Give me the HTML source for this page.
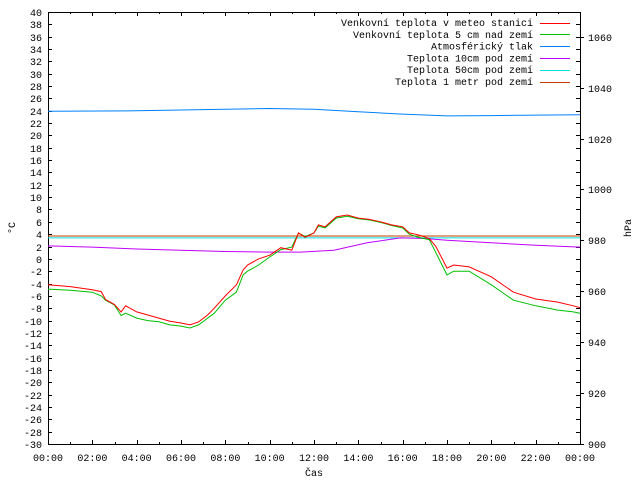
<!DOCTYPE html>
<html><head><meta charset="utf-8"><style>
body{margin:0;background:#fff}
svg{display:block}
text{font-family:"Liberation Mono","DejaVu Sans Mono",monospace;font-size:10px;fill:#000}
</style></head><body>
<svg id="chart" width="640" height="480" xmlns="http://www.w3.org/2000/svg"></svg>
<script>
// time (hours) and values
const tHours = [0,1,2,2.4,2.6,3,3.3,3.5,4,4.5,5,5.5,6,6.4,6.8,7.2,7.5,8,8.5,8.8,9,9.5,10,10.5,11,11.3,11.6,12,12.2,12.5,13,13.5,14,14.5,15,15.5,16,16.3,16.7,17.2,17.5,18,18.3,19,20,21,22,23,23.7,24];
const redVals = [-4.2,-4.5,-5.0,-5.3,-6.6,-7.4,-8.6,-7.6,-8.6,-9.1,-9.6,-10.1,-10.4,-10.7,-10.2,-9.1,-8.0,-6.0,-4.2,-1.8,-1.0,0,0.6,1.8,1.4,4.2,3.5,4.2,5.5,5.2,6.8,7.1,6.6,6.4,6.0,5.5,5.2,4.2,3.9,3.3,2.0,-1.5,-1.0,-1.3,-2.9,-5.4,-6.5,-7.0,-7.6,-7.9];
const greenVals = [-4.9,-5.1,-5.4,-6.0,-6.7,-7.5,-9.2,-8.8,-9.6,-10.0,-10.2,-10.7,-10.9,-11.2,-10.7,-9.6,-8.8,-6.7,-5.4,-2.6,-2.0,-1.0,0.3,1.5,1.9,4.2,3.6,4.2,5.3,5.0,6.6,6.9,6.5,6.3,5.9,5.4,5.0,4.0,3.5,3.1,1.0,-2.6,-2.0,-2.0,-4.2,-6.7,-7.6,-8.3,-8.6,-8.8];
const pressT = [0,4,8,10,12,14,16,18,20,22,24];
const pressVals = [1030.7,1030.9,1031.5,1031.8,1031.5,1030.5,1029.6,1028.9,1029.0,1029.2,1029.3];
const soilT = [0,2,4,6,8,10,11.4,12.9,14.4,15.9,17,18,20,22,24];
const soil10Vals = [2.1,1.9,1.6,1.4,1.2,1.1,1.1,1.4,2.6,3.4,3.3,3.0,2.6,2.2,1.9];
const soil50Vals = [3.4,3.4];
const soil1mVals = [3.7,3.7];
const flatT = [0,24];
const yTicksLeft = [-30,-28,-26,-24,-22,-20,-18,-16,-14,-12,-10,-8,-6,-4,-2,0,2,4,6,8,10,12,14,16,18,20,22,24,26,28,30,32,34,36,38,40];
const yTicksRight = [900,920,940,960,980,1000,1020,1040,1060];
const xTickLabels = ["00:00","02:00","04:00","06:00","08:00","10:00","12:00","14:00","16:00","18:00","20:00","22:00","00:00"];

const L=48,R=580,T=12,B=444;
const x = h => L + h/24*(R-L);
const y = v => B - (v+30)/70*(B-T);
const y2 = p => B - (p-900)/169.7*(B-T);
const svg=document.getElementById('chart');
const NS="http://www.w3.org/2000/svg";
function mk(tag,attrs){const e=document.createElementNS(NS,tag);for(const k in attrs)e.setAttribute(k,attrs[k]);svg.appendChild(e);return e;}

const frame=mk('rect',{x:L+0.5,y:T+0.5,width:R-L,height:B-T,fill:'none',stroke:'#000','stroke-width':1,'shape-rendering':'crispEdges'});



yTicksLeft.forEach(v=>{
  const yy=Math.round(y(v))+0.5;
  const tk=mk('path',{d:`M${L} ${yy}h4M${R} ${yy}h-4`,stroke:'#000','shape-rendering':'crispEdges'});
  
  
  const t=mk('text',{x:L-6,y:yy+3.5,'text-anchor':'end'});t.textContent=v;
  
  
});
yTicksRight.forEach(p=>{
  const yy=Math.round(y2(p))+0.5;
  const tk=mk('path',{d:`M${R} ${yy}h4`,stroke:'#000','shape-rendering':'crispEdges'});
  
  
  const t=mk('text',{x:R+8,y:yy+3.5});t.textContent=p;
  
  
});
for(let h=0;h<=24;h++){
  const xx=Math.round(x(h))+0.5;const len=h%2===0?4:2;
  const tk=mk('path',{d:`M${xx} ${B}v-${len}M${xx} ${T}v${len}`,stroke:'#000','shape-rendering':'crispEdges'});
  
  
}
xTickLabels.forEach((s,i)=>{
  const t=mk('text',{x:x(i*2),y:461,'text-anchor':'middle'});t.textContent=s;
  
  
});
let t=mk('text',{x:314,y:476,'text-anchor':'middle'});t.textContent='Čas';


t=mk('text',{x:0,y:0,'text-anchor':'middle',transform:'translate(15,228) rotate(-90)'});t.textContent='°C';


t=mk('text',{x:0,y:0,'text-anchor':'middle',transform:'translate(631,228) rotate(-90)'});t.textContent='hPa';



function line(ts,vs,fy,color,name){
  const d=ts.map((h,i)=>(i?'L':'M')+x(h).toFixed(1)+' '+fy(vs[i]).toFixed(1)).join('');
  const p=mk('path',{d,fill:'none',stroke:color,'stroke-width':1});
  
  
}
line(flatT,soil1mVals,y,'#c04000','series-soil-1m');
line(flatT,soil50Vals,y,'#00e0e0','series-soil-50cm');
line(soilT,soil10Vals,y,'#c000ff','series-soil-10cm');
line(pressT,pressVals,y2,'#0080ff','series-pressure');
line(tHours,greenVals,y,'#00c000','series-temp-5cm');
line(tHours,redVals,y,'#ff0000','series-temp-station');

const legend=[["Venkovní teplota v meteo stanici","#ff0000"],["Venkovní teplota 5 cm nad zemí","#00c000"],["Atmosférický tlak","#0080ff"],["Teplota 10cm pod zemí","#c000ff"],["Teplota 50cm pod zemí","#00e0e0"],["Teplota 1 metr pod zemí","#c04000"]];
legend.forEach((e,i)=>{
  const yy=22.5+i*11.8;
  const tx=mk('text',{x:533,y:yy+3.5,'text-anchor':'end'});tx.textContent=e[0];
  
  
  const ln=mk('path',{d:`M540 ${Math.round(yy)+0.5}h30`,stroke:e[1],'shape-rendering':'crispEdges'});
  
  
});
</script>
</body></html>
